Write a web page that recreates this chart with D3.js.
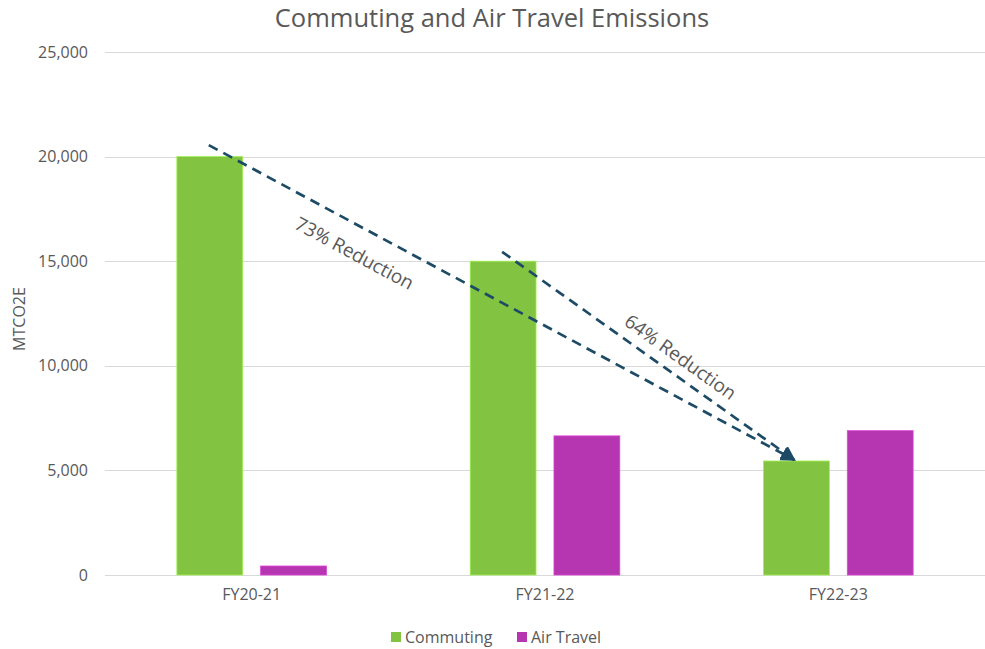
<!DOCTYPE html>
<html>
<head>
<meta charset="utf-8">
<script src="https://cdn.jsdelivr.net/npm/d3@7"></script>
<style>
  html, body { margin: 0; padding: 0; background: #ffffff; }
  svg { display: block; font-family: "Open Sans", "Noto Sans", sans-serif; }
  svg text { font-family: "Open Sans", "Noto Sans", sans-serif; }
</style>
</head>
<body>
<svg id="chart" width="985" height="649"></svg>
<script>
// Fiscal years on the category axis
const categories = ["FY20-21", "FY21-22", "FY22-23"];
// Emission series, MTCO2E
const seriesNames = ["Commuting", "Air Travel"];
const commuting = [20000, 15000, 5450];
const airTravel = [430, 6650, 6900];
const seriesColors = ["#82c341", "#b536b0"];
// Value axis ticks
const yTicks = [0, 5000, 10000, 15000, 20000, 25000];
// Reduction arrows: start above a commuting bar, end on the FY22-23 commuting bar
const arrowStartCats = ["FY20-21", "FY21-22"];
const arrowStartValues = [20550, 15450];
const arrowLabels = ["73% Reduction", "64% Reduction"];

const svg = d3.select("#chart");
const plot = { left: 105, right: 985, top: 52, bottom: 575 };

const x0 = d3.scaleBand().domain(categories)
  .range([plot.left, plot.right]).paddingInner(0.49).paddingOuter(0.245);
const x1 = d3.scaleBand().domain(seriesNames)
  .range([0, x0.bandwidth()]).paddingInner(0.214);
const y = d3.scaleLinear().domain([0, 25000]).range([plot.bottom, plot.top]);
const color = d3.scaleOrdinal().domain(seriesNames).range(seriesColors);

const rows = categories.map((c, i) => ({ cat: c, values: [commuting[i], airTravel[i]] }));

// Title
svg.append("text")
  .attr("x", 492).attr("y", 27)
  .attr("text-anchor", "middle")
  .attr("fill", "#595959")
  .attr("font-size", 25.5)
  .text("Commuting and Air Travel Emissions");

// Gridlines
svg.append("g")
  .selectAll("line").data(yTicks).join("line")
  .attr("x1", plot.left).attr("x2", plot.right)
  .attr("y1", d => Math.round(y(d)) + 0.5).attr("y2", d => Math.round(y(d)) + 0.5)
  .attr("stroke", "#d9d9d9").attr("stroke-width", 1.2);

// Value axis labels
const yAxis = d3.axisLeft(y).tickValues(yTicks).tickFormat(d3.format(",")).tickSize(0).tickPadding(0);
const yg = svg.append("g").attr("transform", `translate(${plot.left - 17},0)`).call(yAxis)
  .attr("font-family", null).attr("font-size", null);
yg.select(".domain").remove();
yg.selectAll("text").attr("fill", "#595959").attr("font-size", 16);

// Value axis title
svg.append("text")
  .attr("transform", "translate(19,319) rotate(-90)")
  .attr("text-anchor", "middle").attr("dominant-baseline", "central")
  .attr("fill", "#595959").attr("font-size", 16)
  .text("MTCO2E");

// Category axis labels
const xAxis = d3.axisBottom(x0).tickSize(0).tickPadding(0);
const xg = svg.append("g").attr("transform", `translate(0,${plot.bottom + 14})`).call(xAxis)
  .attr("font-family", null).attr("font-size", null);
xg.select(".domain").remove();
xg.selectAll("text").attr("fill", "#595959").attr("font-size", 16);

// Bars
const groups = svg.append("g").selectAll("g").data(rows).join("g")
  .attr("transform", d => `translate(${x0(d.cat)},0)`);
groups.selectAll("rect")
  .data(d => d.values.map((v, k) => ({ name: seriesNames[k], value: v })))
  .join("rect")
  .attr("x", d => x1(d.name))
  .attr("width", x1.bandwidth())
  .attr("y", d => y(d.value))
  .attr("height", d => y(0) - y(d.value))
  .attr("fill", d => color(d.name))
  .attr("stroke", d => d3.color(color(d.name)).brighter(0.6))
  .attr("stroke-width", 0.8);

// Reduction arrows
const arrowColor = "#1d4b66";
const defs = svg.append("defs");
defs.append("marker")
  .attr("id", "arrowHead")
  .attr("viewBox", "0 0 10 10")
  .attr("refX", 9).attr("refY", 5)
  .attr("markerWidth", 5.5).attr("markerHeight", 5.5)
  .attr("markerUnits", "strokeWidth")
  .attr("orient", "auto")
  .append("path").attr("d", "M0,0 L10,5 L0,10 Z").attr("fill", arrowColor);

const barCenter = (cat, name) => x0(cat) + x1(name) + x1.bandwidth() / 2;
const endX = barCenter("FY22-23", "Commuting") - 2;
const endY = y(commuting[2]) - 1;

const labelT = [0.27, 0.575];
const labelOffset = [26, -18];

arrowStartCats.forEach((cat, i) => {
  const sx = barCenter(cat, "Commuting") - 1;
  const sy = y(arrowStartValues[i]);
  svg.append("line")
    .attr("x1", sx).attr("y1", sy).attr("x2", endX).attr("y2", endY)
    .attr("stroke", arrowColor).attr("stroke-width", 2.7)
    .attr("stroke-dasharray", "10,6.5")
    .attr("marker-end", "url(#arrowHead)");

  const ang = Math.atan2(endY - sy, endX - sx);
  const px = sx + (endX - sx) * labelT[i] - Math.sin(ang) * labelOffset[i];
  const py = sy + (endY - sy) * labelT[i] + Math.cos(ang) * labelOffset[i];
  svg.append("text")
    .attr("transform", `translate(${px},${py}) rotate(${ang * 180 / Math.PI})`)
    .attr("text-anchor", "middle").attr("dominant-baseline", "central")
    .attr("fill", "#595959").attr("font-size", 19)
    .text(arrowLabels[i]);
});

// Legend
const legend = svg.append("g").attr("transform", "translate(391,637)");
const legendX = [0, 126];
seriesNames.forEach((name, i) => {
  const g = legend.append("g").attr("transform", `translate(${legendX[i]},0)`);
  g.append("rect").attr("x", 0).attr("y", -5).attr("width", 10).attr("height", 10)
    .attr("fill", color(name));
  g.append("text").attr("x", 14).attr("y", 0).attr("dominant-baseline", "central")
    .attr("fill", "#595959").attr("font-size", 16).text(name);
});
</script>
</body>
</html>
